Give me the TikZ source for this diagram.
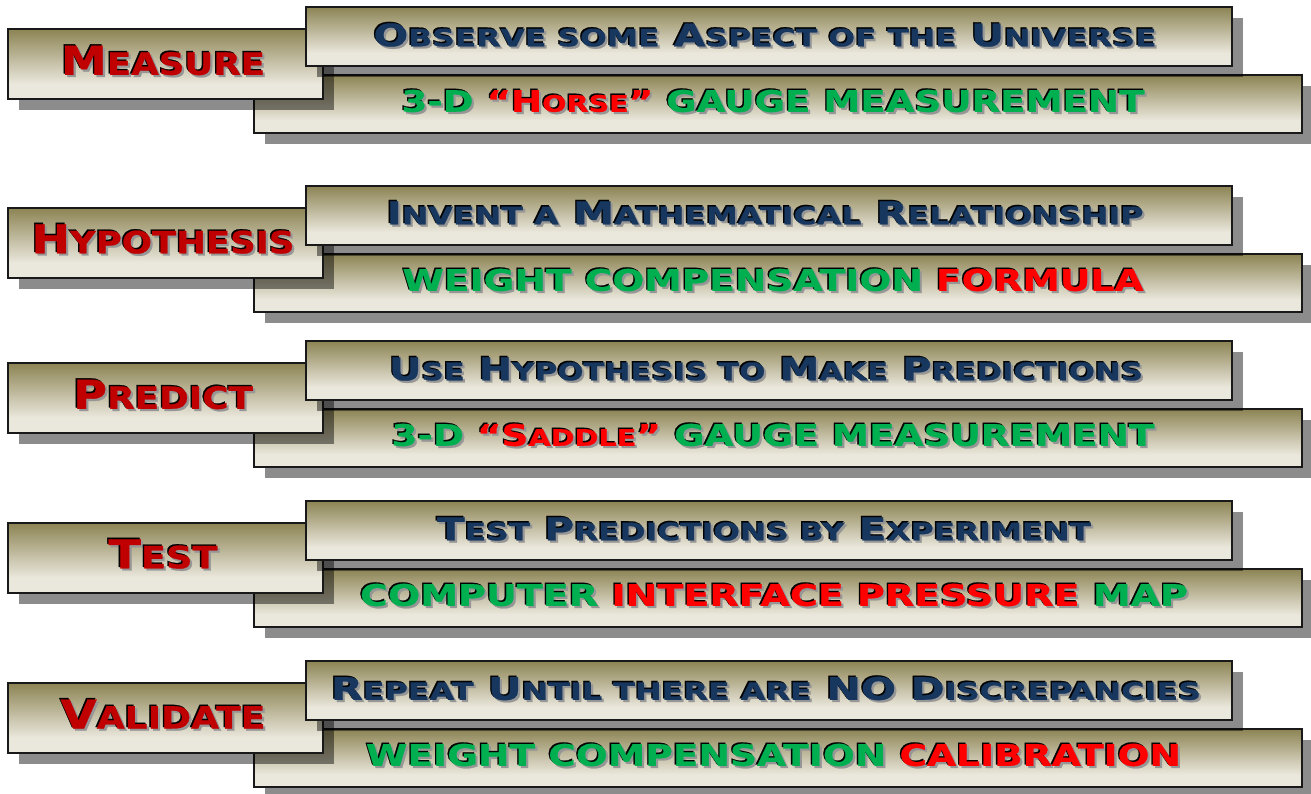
\documentclass[tikz,border=0pt]{standalone}
\usepackage{fontspec}
\usepackage{graphicx}
\usetikzlibrary{shadows}
\newfontfamily\cop{DejaVu Sans Bold}[FakeBold=0.8]
\definecolor{boxtop}{RGB}{140,132,84}
\definecolor{boxbot}{RGB}{234,231,220}
\definecolor{cR}{RGB}{192,0,0}
\definecolor{cr}{RGB}{255,0,0}
\definecolor{cg}{RGB}{0,176,80}
\definecolor{cb}{RGB}{23,55,94}
\definecolor{shgray}{RGB}{150,150,150}
\pgfdeclareverticalshading{boxshade}{100bp}{color(0bp)=(boxbot); color(25bp)=(boxbot); color(36bp)=(boxbot); color(75bp)=(boxtop); color(100bp)=(boxtop)}
\newcommand\allcol[1]{\colorlet{cR}{#1}\colorlet{cr}{#1}\colorlet{cg}{#1}\colorlet{cb}{#1}}
\newcommand\smc[1]{\scalebox{0.77}{#1}}
% one node per text: grey shadow (down-right), black shadow (up-left), coloured text
\newcommand\ftext[5]{%
  \node[lbl] (#4) at (#1) {%
    \rlap{\hspace{2.2pt}\raisebox{-2.2pt}[0pt][0pt]{\allcol{shgray}\resizebox{#2pt}{#3pt}{#5}}}%
    \rlap{\hspace{-1.4pt}\raisebox{1.4pt}[0pt][0pt]{\allcol{black}\resizebox{#2pt}{#3pt}{#5}}}%
    \resizebox{#2pt}{#3pt}{#5}};
}
\tikzset{
  panel/.style={draw=black!90, line width=1.2pt, shade, shading=boxshade, inner sep=0pt,
    drop shadow={shadow xshift=11pt, shadow yshift=-11pt, fill=black, opacity=0.45}},
  leftbox/.style={panel, minimum width=315pt, minimum height=70pt},
  topbox/.style={panel, minimum width=926pt, minimum height=59pt},
  botbox/.style={panel, minimum width=1048pt, minimum height=58pt},
  lbl/.style={inner sep=0pt, font=\cop\fontsize{30}{30}\selectfont},
}
\begin{document}
\begin{tikzpicture}[x=1pt,y=-1pt]
\useasboundingbox (0,0) rectangle (1311,794);
% ---------- Row 1
\node[botbox] (b1) at (778,104) {};
\node[leftbox] (l1) at (165.5,64) {};
\node[topbox] (t1) at (769,36.5) {};
\ftext{163,60.5}{204}{29}{L1}{\color{cR}M\smc{EASURE}}
\ftext{765,35}{783}{23}{T1}{\color{cb}O\smc{BSERVE SOME} A\smc{SPECT OF THE} U\smc{NIVERSE}}
\ftext{773,101}{743}{22}{B1}{\color{cg}3-D \color{cr}“H\smc{ORSE}” \color{cg}GAUGE MEASUREMENT}
% ---------- Row 2
\node[botbox] (b2) at (778,283) {};
\node[leftbox] (l2) at (165.5,243) {};
\node[topbox] (t2) at (769,215.5) {};
\ftext{163,239}{263}{29}{L2}{\color{cR}H\smc{YPOTHESIS}}
\ftext{765,213}{757}{23}{T2}{\color{cb}I\smc{NVENT A} M\smc{ATHEMATICAL} R\smc{ELATIONSHIP}}
\ftext{773,280}{741}{22}{B2}{\color{cg}WEIGHT COMPENSATION \color{cr}FORMULA}
% ---------- Row 3
\node[botbox] (b3) at (778,438) {};
\node[leftbox] (l3) at (165.5,398) {};
\node[topbox] (t3) at (769,370.5) {};
\ftext{163,394.5}{180}{29}{L3}{\color{cR}P\smc{REDICT}}
\ftext{766,369}{754}{23}{T3}{\color{cb}U\smc{SE} H\smc{YPOTHESIS TO} M\smc{AKE} P\smc{REDICTIONS}}
\ftext{773,435}{763}{22}{B3}{\color{cg}3-D \color{cr}“S\smc{ADDLE}” \color{cg}GAUGE MEASUREMENT}
% ---------- Row 4
\node[botbox] (b4) at (778,598) {};
\node[leftbox] (l4) at (165.5,558) {};
\node[topbox] (t4) at (769,530.5) {};
\ftext{163,554}{109}{29}{L4}{\color{cR}T\smc{EST}}
\ftext{764,529}{654}{23}{T4}{\color{cb}T\smc{EST} P\smc{REDICTIONS BY} E\smc{XPERIMENT}}
\ftext{774,595}{828}{22}{B4}{\color{cg}COMPUTER \color{cr}INTERFACE PRESSURE \color{cg}MAP}
% ---------- Row 5
\node[botbox] (b5) at (778,758) {};
\node[leftbox] (l5) at (165.5,718) {};
\node[topbox] (t5) at (769,690.5) {};
\ftext{163,714}{205}{29}{L5}{\color{cR}V\smc{ALIDATE}}
\ftext{766,688.5}{870}{23}{T5}{\color{cb}R\smc{EPEAT} U\smc{NTIL THERE ARE} NO D\smc{ISCREPANCIES}}
\ftext{773.5,755}{815}{22}{B5}{\color{cg}WEIGHT COMPENSATION \color{cr}CALIBRATION}
\end{tikzpicture}
\end{document}
